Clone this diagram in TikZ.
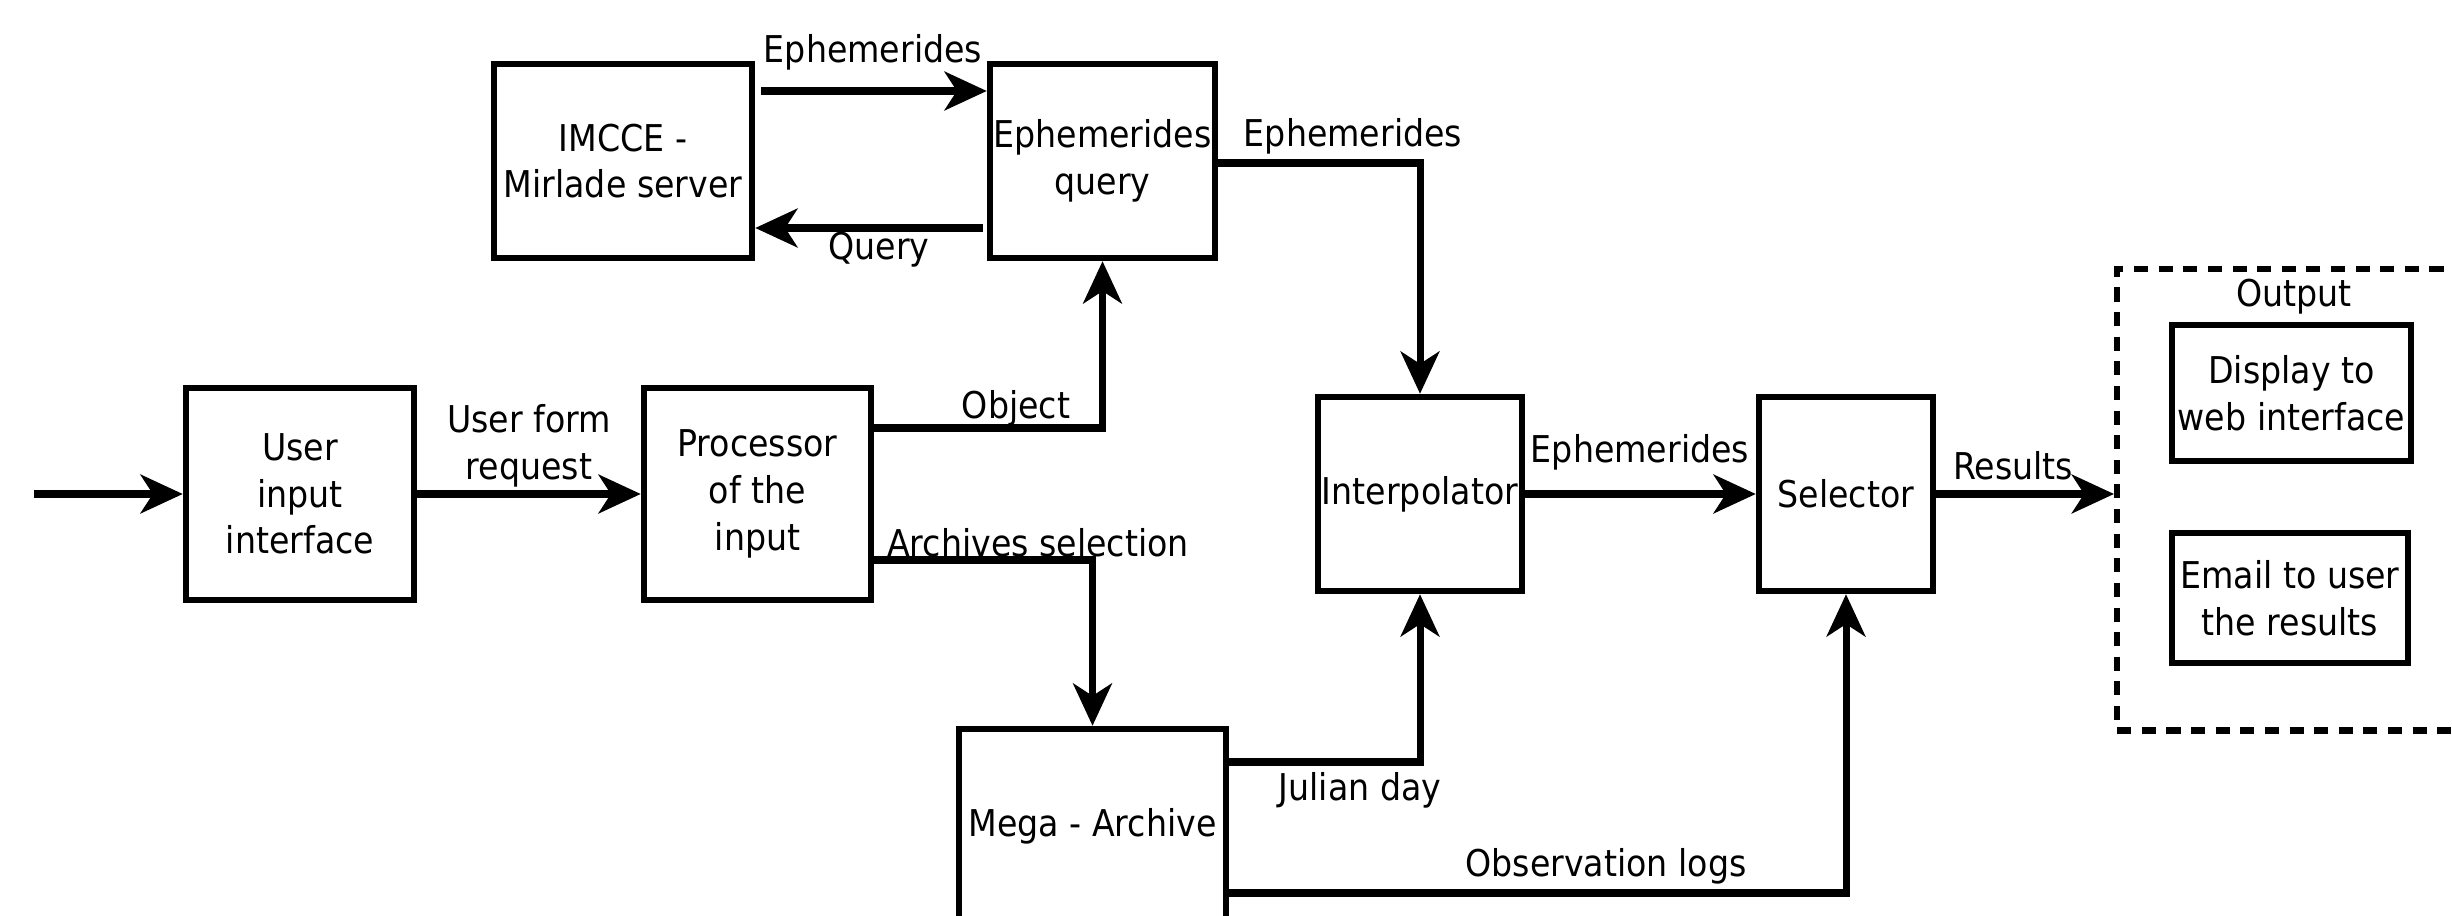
\documentclass[tikz,border=0pt]{standalone}
\usepackage{fontspec}
\setmainfont{DejaVu Sans}[FakeStretch=0.9]
\usetikzlibrary{arrows.meta,calc}
\newcommand{\dfont}{\fontsize{10.5pt}{13.3pt}\selectfont}
\begin{document}
\begin{tikzpicture}[x=0.01cm,y=-0.01cm,
  box/.style={draw,line width=1.8pt,inner sep=0pt,align=center,font=\dfont},
  lbl/.style={inner sep=0pt,font=\dfont,align=center},
  arr/.style={line width=2pt,-{Stealth[length=12pt,width=11pt,inset=3.5pt]}}]
\path[use as bounding box] (0,0) rectangle (2452,916);
\clip (0,0) rectangle (2452,916);
\node[box,minimum width=2.58cm,minimum height=1.94cm] (imcce) at (623,161) {IMCCE -\\Mirlade server};
\node[box,minimum width=2.25cm,minimum height=1.94cm] (ephq) at (1102.5,161) {Ephemerides\\query};
\node[box,minimum width=2.28cm,minimum height=2.12cm] (user) at (300,494) {User\\input\\interface};
\node[box,minimum width=2.27cm,minimum height=2.12cm] (proc) at (757.5,494) {Processor\\of the\\input};
\node[box,minimum width=2.04cm,minimum height=1.94cm] (interp) at (1420,494) {Interpolator};
\node[box,minimum width=1.74cm,minimum height=1.94cm] (sel) at (1846,494) {Selector};
\node[box,minimum width=2.67cm,minimum height=1.94cm] (mega) at (1092.5,826) {Mega - Archive};
\node[draw,line width=1.8pt,dash pattern=on 4pt off 3pt,minimum width=4cm,minimum height=4.61cm,anchor=north west,inner sep=0pt] (out) at (2114,266) {};
\node[lbl] (outlbl) at (2294,297) {Output};
\node[box,minimum width=2.39cm,minimum height=1.36cm] (disp) at (2291.5,393) {Display to\\web interface};
\node[box,minimum width=2.36cm,minimum height=1.30cm] (email) at (2290,598) {Email to user\\the results};

\coordinate (entry) at (34,494);
\draw[arr] (entry) -- (user.west);
\draw[arr] (user.east) -- (proc.west);
\node[lbl] (l1) at (529,446) {User form\\request};
\draw[arr] ($(imcce.east |- 0,91)+(6,0)$) -- (ephq.west |- 0,91);
\node[lbl] (l2) at (873,52) {Ephemerides};
\draw[arr] ($(ephq.west |- 0,228)-(4,0)$) -- (imcce.east |- 0,228);
\node[lbl] (l3) at (879,250) {Query};
\draw[arr] (proc.east |- 0,428) -| (ephq.south);
\node[lbl] (l4) at (1016,408) {Object};
\draw[arr] (proc.east |- 0,560) -| (mega.north);
\node[lbl] (l5) at (1038,543) {Archives selection};
\draw[arr] (ephq.east |- 0,163) -| (interp.north);
\node[lbl] (l6) at (1353,136) {Ephemerides};
\draw[arr] (interp.east) -- (sel.west);
\node[lbl] (l7) at (1640,452) {Ephemerides};
\draw[arr] (sel.east) -- (sel.east -| out.west);
\node[lbl] (l8) at (2013,466) {Results};
\draw[arr] (mega.east |- 0,762) -| (interp.south);
\node[lbl] (l9) at (1360,790) {Julian day};
\draw[arr] (mega.east |- 0,893) -| (sel.south);
\node[lbl] (l10) at (1606,866) {Observation logs};
\end{tikzpicture}
\end{document}
